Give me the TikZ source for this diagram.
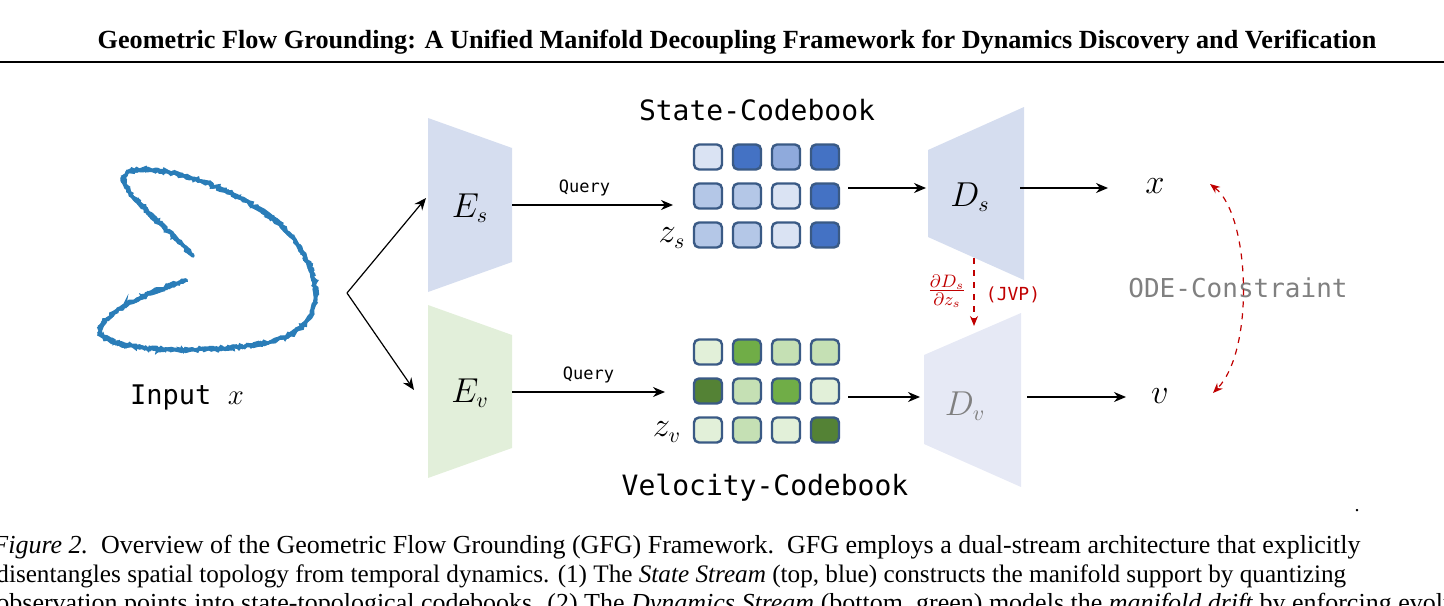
\documentclass[tikz,border=0pt]{standalone}
\usepackage{fontspec}
\setmainfont{Liberation Serif}
\setmonofont{DejaVu Sans Mono}
\usetikzlibrary{arrows.meta,decorations.pathmorphing}
\definecolor{cbl1}{HTML}{DAE3F3}\definecolor{cbl2}{HTML}{B4C7E7}
\definecolor{cbl3}{HTML}{8FAADC}\definecolor{cbl4}{HTML}{4472C4}
\definecolor{cgr1}{HTML}{E2F0D9}\definecolor{cgr2}{HTML}{C5E0B4}
\definecolor{cgr3}{HTML}{70AD47}\definecolor{cgr4}{HTML}{548235}
\definecolor{encblue}{HTML}{D5DDEF}\definecolor{encgreen}{HTML}{E2EFDA}
\definecolor{decv}{HTML}{E6E9F5}\definecolor{scat}{HTML}{2A7DB8}
\definecolor{jvp}{HTML}{C00000}\definecolor{cellb}{HTML}{3A5A85}
\begin{document}
\begin{tikzpicture}[x=0.5pt,y=-0.5pt,
  cell/.style={draw=cellb,line width=1.2pt,rounded corners=2.5pt,minimum width=14pt,minimum height=12.5pt,inner sep=0pt},
  arr/.style={-{Stealth[length=6pt,width=5pt]},line width=0.6pt},
  mono/.style={font=\ttfamily},
  mth/.style={font=\fontsize{16}{18}\selectfont},
  red/.style={draw=jvp,dashed,line width=0.6pt,-{Stealth[length=5pt,width=4pt]}}]
\useasboundingbox (0,0) rectangle (1444,605);
\clip (0,0) rectangle (1444,605);
% header
\node[font=\fontsize{13.1}{15}\selectfont\bfseries] (title) at (737,42) {Geometric Flow Grounding: A Unified Manifold Decoupling Framework for Dynamics Discovery and Verification};
\draw[line width=1.1pt] (0,62) -- (1444,62);
% scatter curve
\foreach \s/\a in {1.3/0.9,1.7/1.1,2.1/0.8}{
\draw[scat,line width=1.6pt,line cap=round,decorate,decoration={random steps,segment length=\s pt,amplitude=\a pt}]
 (193,256) .. controls (160,220) and (110,185) .. (128,172)
 .. controls (160,160) and (260,195) .. (295,240)
 .. controls (330,290) and (320,330) .. (270,342)
 .. controls (220,352) and (130,355) .. (102,336)
 .. controls (90,320) and (140,295) .. (186,280);}
\node[mono,font=\ttfamily\fontsize{13.5}{16}\selectfont,anchor=base] (inp) at (187,404) {Input $x$};
% encoders
\fill[encblue] (428,118) -- (512,148) -- (512,262) -- (428,292) -- cycle;
\node[mth] (Es) at (470,208) {$E_s$};
\fill[encgreen] (428,305) -- (512,335) -- (512,448) -- (428,478) -- cycle;
\node[mth] (Ev) at (470,393) {$E_v$};
\coordinate (split) at (347,293);
\coordinate (esin) at (426,198);
\coordinate (evin) at (414,390);
\draw[arr] (split) -- (esin);
\draw[arr] (split) -- (evin);
% decoders
\fill[encblue] (928,150) -- (1024,107) -- (1024,280) -- (928,237) -- cycle;
\node[mth] (Ds) at (970,197) {$D_s$};
\fill[decv] (924,355) -- (1021,313) -- (1021,487) -- (924,444) -- cycle;
\node[mth,text=gray] (Dv) at (965,406) {$D_v$};
% codebooks
\node[font=\ttfamily\fontsize{14}{16}\selectfont] (sc) at (757,110) {State-Codebook};
\node[font=\ttfamily\fontsize{14}{16}\selectfont] (vc) at (765,488) {Velocity-Codebook};
\foreach \c [count=\i] in {cbl1,cbl4,cbl3,cbl4}{\node[cell,fill=\c] (s1\i) at ({669+39*\i},157) {};}
\foreach \c [count=\i] in {cbl2,cbl2,cbl1,cbl4}{\node[cell,fill=\c] (s2\i) at ({669+39*\i},196) {};}
\foreach \c [count=\i] in {cbl2,cbl2,cbl1,cbl4}{\node[cell,fill=\c] (s3\i) at ({669+39*\i},235) {};}
\foreach \c [count=\i] in {cgr1,cgr3,cgr2,cgr2}{\node[cell,fill=\c] (v1\i) at ({669+39*\i},352) {};}
\foreach \c [count=\i] in {cgr4,cgr2,cgr3,cgr1}{\node[cell,fill=\c] (v2\i) at ({669+39*\i},391) {};}
\foreach \c [count=\i] in {cgr1,cgr2,cgr1,cgr4}{\node[cell,fill=\c] (v3\i) at ({669+39*\i},430) {};}
\node[mth] (zs) at (672,238) {$z_s$};
\node[mth] (zv) at (667,432) {$z_v$};
% query arrows
\coordinate (qs) at (673,205);
\coordinate (qv) at (665,392);
\draw[arr] (512,205) -- node[above,mono,font=\ttfamily\fontsize{8.5}{10}\selectfont,pos=0.45,yshift=1pt]{Query} (qs);
\draw[arr] (512,392) -- node[above,mono,font=\ttfamily\fontsize{8.5}{10}\selectfont,pos=0.5,yshift=1pt]{Query} (qv);
\coordinate (dsin) at (926,188);
\coordinate (dvin) at (920,397);
\draw[arr] (848,188) -- (dsin);
\draw[arr] (848,397) -- (dvin);
% outputs
\node[mth] (xo) at (1155,186) {$x$};
\node[mth] (vo) at (1160,396) {$v$};
\draw[arr] (1020,188) -- (1108,188);
\draw[arr] (1027,397) -- (1126,397);
% JVP
\coordinate (j1) at (974,258);
\coordinate (j2) at (974,326);
\draw[red] (j1) -- (j2);
\node[text=jvp] (frac) at (947,291) {\fontsize{13}{15}\selectfont$\frac{\partial D_s}{\partial z_s}$};
\node[text=jvp,font=\ttfamily\fontsize{9}{11}\selectfont] (jvpl) at (1013,295) {(JVP)};
% ODE constraint
\node[text=gray,font=\ttfamily\fontsize{13}{15}\selectfont] (ode) at (1238,288) {ODE-Constraint};
\coordinate (o1) at (1210,184);
\coordinate (o2) at (1213,393);
\draw[red,{Stealth[length=5pt,width=4pt]}-{Stealth[length=5pt,width=4pt]}] (o1) .. controls (1250,215) and (1255,350) .. (o2);
\node at (1357,511) {.};
% caption
\begin{scope}[every node/.style={anchor=base west,inner sep=0pt,font=\fontsize{13}{15}\selectfont}]
\node (c1) at (-8,553) {\textit{Figure 2.}\ \ Overview of the Geometric Flow Grounding (GFG) Framework.\ \ GFG employs a dual-stream architecture that explicitly};
\node (c2) at (-4,582) {\fontsize{12.6}{15}\selectfont disentangles spatial topology from temporal dynamics. (1) The \textit{State Stream} (top, blue) constructs the manifold support by quantizing};
\node (c3) at (-4,611) {observation points into state-topological codebooks. (2) The \textit{Dynamics Stream} (bottom, green) models the \textit{manifold drift} by enforcing evolution};
\end{scope}
\end{tikzpicture}
\end{document}
